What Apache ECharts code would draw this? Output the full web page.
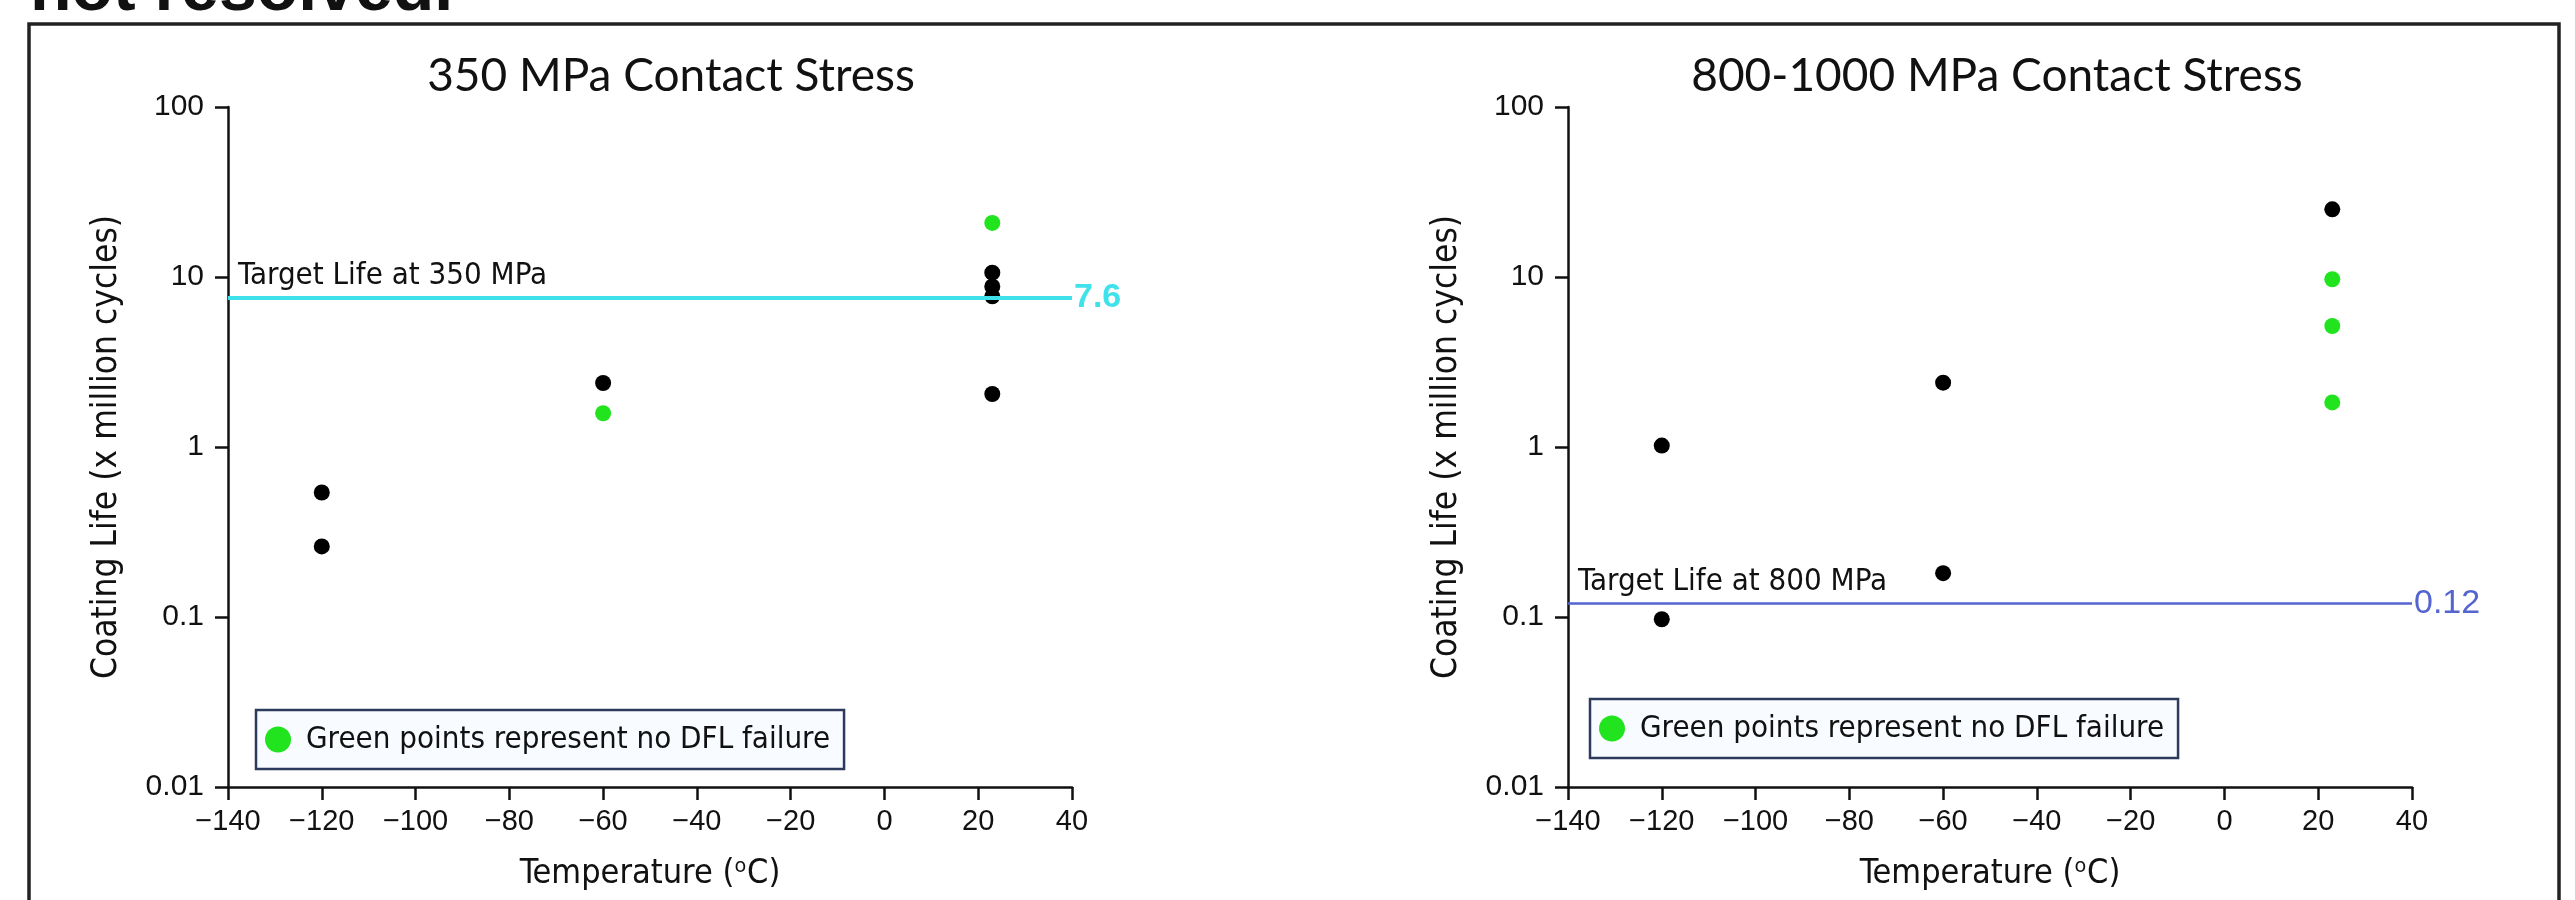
<!DOCTYPE html>
<html>
<head>
<meta charset="utf-8">
<script src="https://cdn.jsdelivr.net/npm/echarts@6/dist/echarts.min.js"></script>
<style>
  html, body { margin: 0; padding: 0; background: #fff; }
  #chart { width: 2575px; height: 900px; }
</style>
</head>
<body>
<div id="chart"></div>
<script>
// 350 MPa panel
const leftBlackX = [-120, -120, -60, 23, 23, 23, 23];
const leftBlackY = [0.54, 0.26, 2.38, 10.6, 8.8, 7.7, 2.05];
const leftGreenX = [-60, 23];
const leftGreenY = [1.58, 20.8];
const leftTarget = 7.6;

// 800-1000 MPa panel
const rightBlackX = [-120, -120, -60, -60, 23];
const rightBlackY = [1.02, 0.097, 2.39, 0.181, 25];
const rightGreenX = [23, 23, 23];
const rightGreenY = [9.7, 5.15, 1.83];
const rightTarget = 0.12;

const titles = ['350 MPa Contact Stress', '800-1000 MPa Contact Stress'];
const targetTexts = ['Target Life at 350 MPa', 'Target Life at 800 MPa'];
const legendName = 'Green points represent no DFL failure';
const xTicks = { min: -140, max: 40, interval: 20 };
const yTicks = { min: 0.01, max: 100 };

const narrow = '"Liberation Sans Narrow", "Arial Narrow", "DejaVu Sans Condensed", sans-serif';
const arial = '"Liberation Sans", Arial, sans-serif';

const zip = (xs, ys) => xs.map((x, i) => [x, ys[i]]);

const chart = echarts.init(document.getElementById('chart'));

const gridLefts = [228, 1568];

function xAxisFor(i) {
  return {
    gridIndex: i, type: 'value', min: xTicks.min, max: xTicks.max, interval: xTicks.interval,
    name: 'Temperature (\u1d52C)', nameLocation: 'middle', nameGap: 70,
    nameTextStyle: { fontFamily: narrow, fontSize: 34, color: '#111' },
    axisLine: { onZero: false, lineStyle: { color: '#111', width: 2.5 } },
    axisTick: { inside: false, length: 13, lineStyle: { color: '#111', width: 2.5 } },
    axisLabel: { fontFamily: arial, fontSize: 29, color: '#111', margin: 20,
      formatter: v => String(v).replace('-', '\u2212') },
    splitLine: { show: false }
  };
}

function yAxisFor(i) {
  return {
    gridIndex: i, type: 'log', logBase: 10, min: yTicks.min, max: yTicks.max,
    name: 'Coating Life (x million cycles)', nameLocation: 'middle', nameGap: 104,
    nameTextStyle: { fontFamily: narrow, fontSize: 35, color: '#111' },
    axisLine: { show: true, onZero: false, lineStyle: { color: '#111', width: 2.5 } },
    axisTick: { show: true, inside: false, length: 13, lineStyle: { color: '#111', width: 2.5 } },
    axisLabel: { fontFamily: arial, fontSize: 30, color: '#111', margin: 24,
      formatter: v => String(+v.toPrecision(3)) },
    splitLine: { show: false },
    minorTick: { show: false }
  };
}

function targetLine(value, color, width, bold, text) {
  return {
    silent: true, symbol: 'none', animation: false,
    emphasis: { disabled: true },
    data: [
      { yAxis: value, lineStyle: { color: color, width: width, type: 'solid' },
        label: { show: true, position: 'end', formatter: String(value), distance: 2,
          color: color, fontFamily: arial, fontSize: 34, fontWeight: bold ? 'bold' : 'normal' } },
      { yAxis: value, lineStyle: { color: 'rgba(0,0,0,0)', width: 0 },
        label: { show: true, position: 'insideStartTop', formatter: text,
          distance: [10, 6], color: '#111', fontFamily: narrow, fontSize: 31 } }
    ]
  };
}

function legendFor(left, top) {
  return {
    data: [legendName], left: left, top: top, orient: 'horizontal', selectedMode: false,
    icon: 'circle', itemWidth: 26, itemHeight: 26,
    padding: [14, 14, 14, 9],
    backgroundColor: '#f8fbff', borderColor: '#2c3a5c', borderWidth: 2.5,
    textStyle: { fontFamily: narrow, fontSize: 31, color: '#111', padding: [0, 0, 0, 10] }
  };
}

const dot = 16;
const green = '#22e41e';

const option = {
  animation: false,
  backgroundColor: '#fff',
  title: titles.map((t, i) => ({
    text: t, left: i === 0 ? 666 : 1992, top: 48, textAlign: 'center',
    textStyle: { fontFamily: 'Lato, "Open Sans", sans-serif', fontSize: 46, fontWeight: 'normal', color: '#111' }
  })),
  legend: [legendFor(256, 710), legendFor(1590, 699)],
  grid: gridLefts.map(l => ({ left: l, top: 107, width: 844, height: 680, containLabel: false })),
  xAxis: [xAxisFor(0), xAxisFor(1)],
  yAxis: [yAxisFor(0), yAxisFor(1)],
  series: [
    { type: 'scatter', name: 'left failures', xAxisIndex: 0, yAxisIndex: 0,
      data: zip(leftBlackX, leftBlackY), symbolSize: dot, itemStyle: { color: '#000', opacity: 1 },
      markLine: targetLine(leftTarget, '#3fe2ea', 4, true, targetTexts[0]) },
    { type: 'scatter', name: legendName, xAxisIndex: 0, yAxisIndex: 0,
      data: zip(leftGreenX, leftGreenY), symbolSize: dot, itemStyle: { color: green, opacity: 1 } },
    { type: 'scatter', name: 'right failures', xAxisIndex: 1, yAxisIndex: 1,
      data: zip(rightBlackX, rightBlackY), symbolSize: dot, itemStyle: { color: '#000', opacity: 1 },
      markLine: targetLine(rightTarget, '#5565cf', 2.5, false, targetTexts[1]) },
    { type: 'scatter', name: legendName, xAxisIndex: 1, yAxisIndex: 1,
      data: zip(rightGreenX, rightGreenY), symbolSize: dot, itemStyle: { color: green, opacity: 1 } }
  ],
  graphic: [
    { type: 'rect', shape: { x: 29, y: 24, width: 2530, height: 900 }, silent: true,
      style: { fill: 'none', stroke: '#222', lineWidth: 3.5 } },
    { type: 'text', x: 30, y: -9, silent: true,
      style: { text: 'not resolved.', font: 'bold 68px "Liberation Sans", Arial, sans-serif',
        fill: '#111', verticalAlign: 'middle' } }
  ]
};

chart.setOption(option);
window.addEventListener('resize', () => chart.resize());
</script>
</body>
</html>
